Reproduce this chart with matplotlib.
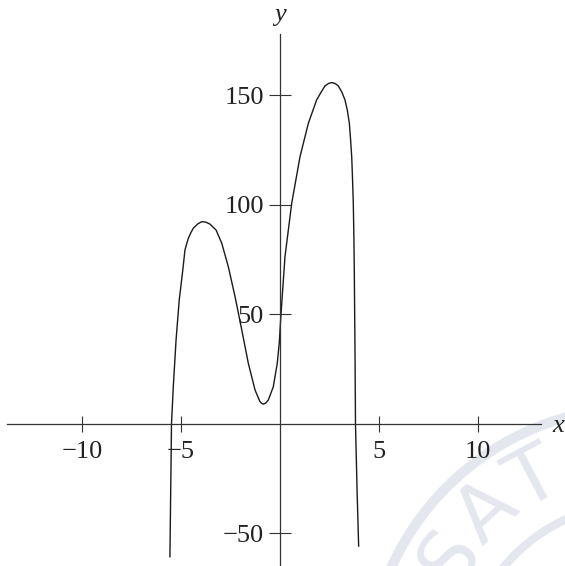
import numpy as np
import matplotlib.pyplot as plt
from matplotlib.patches import Circle

# curve
x_vals = [-5.56, -5.48, -5.39, -5.25, -5.09, -4.91, -4.80, -4.70, -4.63, -4.50,
          -4.38, -4.15, -3.95, -3.75, -3.54, -3.23, -2.94, -2.61, -2.27, -1.93,
          -1.60, -1.26, -1.01, -0.92, -0.84, -0.72, -0.59, -0.34, -0.14, -0.04,
          0.04, 0.25, 0.59, 1.01, 1.43, 1.85, 2.08, 2.27, 2.45, 2.61,
          2.78, 2.94, 3.12, 3.28, 3.40, 3.50, 3.56, 3.62, 3.66, 3.70,
          3.73, 3.75, 3.79, 3.81, 3.89, 3.97]
y_vals = [-60.8, 0.0, 16.8, 38.2, 56.4, 70.1, 79.3, 82.5, 84.6, 87.2,
          89.2, 91.2, 92.2, 92.0, 91.1, 88.4, 82.3, 71.6, 57.9, 42.7,
          27.5, 15.3, 10.0, 9.2, 8.9, 9.4, 10.8, 16.8, 27.5, 36.7,
          48.8, 76.2, 100.6, 121.9, 137.1, 147.8, 151.4, 154.2, 155.3, 155.7,
          155.3, 154.2, 151.4, 147.8, 143.0, 137.1, 130.0, 121.9, 112.0, 100.6,
          85.0, 70.1, 29.0, 0.0, -30.3, -55.9]

x_ticks = [-10, -5, 5, 10]
y_ticks = [-50, 50, 100, 150]

plt.rcParams['font.family'] = ['Liberation Serif', 'DejaVu Serif']

fig = plt.figure(figsize=(5.65, 5.66), dpi=100)

# faint seal watermark in the corner (pixel coords)
wax = fig.add_axes([0, 0, 1, 1], zorder=0)
wax.set_xlim(0, 565)
wax.set_ylim(566, 0)
wax.axis('off')
wm = '#e5e7ef'
wax.add_patch(Circle((640, 680), 273, fill=False, ec=wm, lw=7.2))
wax.add_patch(Circle((640, 680), 177, fill=False, ec=wm, lw=6.0))
for ch, ang in zip('SAT', [147, 132.5, 118]):
    t = np.radians(ang)
    wax.text(640 + 226 * np.cos(t), 680 - 226 * np.sin(t), ch, color=wm,
             fontsize=56, family='DejaVu Sans', rotation=ang - 90,
             ha='center', va='center', rotation_mode='anchor')

ax = fig.add_axes([0, 0, 1, 1], zorder=1)
ax.patch.set_alpha(0)
ax.set_xlim(-14.14, 14.39)
ax.set_ylim(-65.0, 193.4)

ax.plot(x_vals, y_vals, color='#1a1a1a', lw=1.0)

for s in ['top', 'right']:
    ax.spines[s].set_visible(False)
ax.spines['left'].set_position(('data', 0))
ax.spines['bottom'].set_position(('data', 0))
ax.spines['bottom'].set_bounds(-13.79, 13.18)
ax.spines['left'].set_bounds(-65.0, 177.9)
for s in ['left', 'bottom']:
    ax.spines[s].set_color('#333333')
    ax.spines[s].set_linewidth(0.9)

ax.set_xticks(x_ticks)
ax.set_yticks(y_ticks)
ax.tick_params(axis='x', direction='inout', length=11.5, width=0.8,
               color='#333333', pad=7, labelsize=19, labelcolor='#222222')
ax.tick_params(axis='y', direction='inout', length=15.8, width=0.8,
               color='#333333', pad=3.6, labelsize=19, labelcolor='#222222')

fig.text(558 / 565, 1 - 426 / 566, 'x', style='italic', fontsize=19,
         ha='center', va='center', color='#222222')
fig.text(280 / 565, 1 - 15 / 566, 'y', style='italic', fontsize=19,
         ha='center', va='center', color='#222222')

plt.savefig('out.png', dpi=100)
